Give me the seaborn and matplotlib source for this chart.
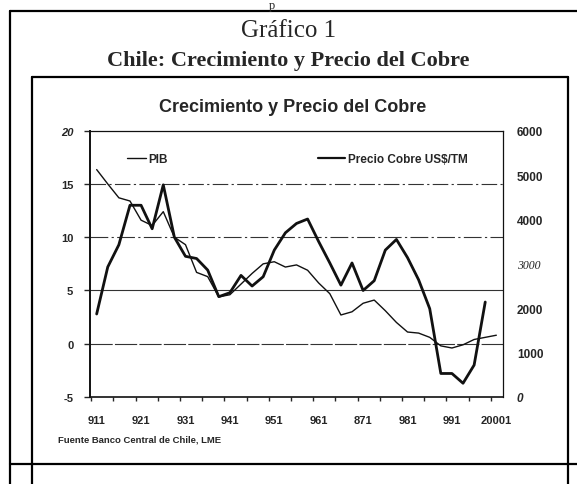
import matplotlib
matplotlib.use("Agg")
import matplotlib.pyplot as plt
from matplotlib.lines import Line2D
import numpy as np
import seaborn as sns

# datos
periodo = list(range(37))
etiquetas = ["911", "921", "931", "941", "951", "961", "871", "981", "991", "20001"]
pib = [16.35, 15.0, 13.7, 13.4, 11.6, 11.1, 12.4, 10.0, 9.3, 6.7,
       6.3, 4.4, 4.6, 5.6, 6.6, 7.5, 7.7, 7.2, 7.4, 6.9,
       5.7, 4.7, 2.7, 3.0, 3.8, 4.1, 3.1, 2.0, 1.1, 1.0,
       0.6, -0.2, -0.4, -0.1, 0.4, 0.6, 0.8]
cobre = [1870, 2930, 3430, 4320, 4320, 3790, 4780, 3600, 3170, 3120,
         2860, 2260, 2350, 2740, 2500, 2710, 3310, 3700, 3910, 4010,
         3500, 3020, 2520, 3020, 2400, 2620, 3310, 3550, 3140, 2640,
         1990, 530, 530, 310, 720, 2140]
ticks_izq = [-5, 0, 5, 10, 15, 20]
ticks_der = [0, 1000, 2000, 3000, 4000, 5000, 6000]

sns.set_style("white")
plt.rcParams['font.family'] = ['Liberation Sans', 'DejaVu Sans']

W, H = 577, 485
fig = plt.figure(figsize=(W / 100, H / 100), dpi=100)


def fx(x):
    return x / W


def fy(y):
    return 1 - y / H


def linea(x0, y0, x1, y1, lw=1.6):
    fig.add_artist(Line2D([fx(x0), fx(x1)], [fy(y0), fy(y1)], color="black",
                          lw=lw, transform=fig.transFigure))


# marcos del documento
linea(10, 12, 577, 12)
linea(10, 12, 10, 485)
linea(32, 78, 568, 78)
linea(32, 78, 32, 485)
linea(568, 78, 568, 485)
linea(10, 465, 577, 465)

fig.text(fx(272), fy(0.5), "p", family="Liberation Serif", fontsize=9,
         ha="center", va="top")
fig.text(fx(289), fy(31), "Gráfico 1", family="Liberation Serif", fontsize=18,
         ha="center", va="center")
fig.text(fx(288), fy(61), "Chile: Crecimiento y Precio del Cobre",
         family="Liberation Serif", fontsize=16, fontweight="bold",
         ha="center", va="center")
fig.text(fx(293), fy(107), "Crecimiento y Precio del Cobre", fontsize=13,
         fontweight="bold", ha="center", va="center")
fig.text(fx(58), fy(440), "Fuente Banco Central de Chile, LME", fontsize=6.8,
         fontweight="bold", ha="left", va="center")

ax = fig.add_axes([fx(90), fy(398), fx(503) - fx(90), fy(131.7) - fy(398)])
ax.set_xlim(-0.6, 36.6)
ax.set_ylim(-5, 20)

# lineas horizontales de referencia
for v, estilo in [(15, (0, (14, 3, 2, 3))), (10, (0, (16, 3, 2, 3))), (5, "-"), (0, (0, (20, 2)))]:
    ax.axhline(v, color="#333333", lw=0.8, ls=estilo, zorder=1)

sns.lineplot(x=periodo, y=pib, ax=ax, color="#111111", lw=1.0, zorder=3)

ax2 = ax.twinx()
ax2.set_ylim(0, 6000)
sns.lineplot(x=periodo[:len(cobre)], y=cobre, ax=ax2, color="#111111", lw=2.0, zorder=3)

# ejes
for s in ["top", "right", "left", "bottom"]:
    ax.spines[s].set_visible(True)
    ax.spines[s].set_color("#111111")
    ax2.spines[s].set_visible(False)
ax.spines["left"].set_linewidth(1.4)
ax.spines["bottom"].set_linewidth(1.2)
ax.spines["top"].set_linewidth(0.9)
ax.spines["right"].set_linewidth(0.9)

ax.set_xticks(periodo[::4])
ax.set_xticklabels(etiquetas, fontsize=8, fontweight="bold")
ax.set_xticks(np.arange(-0.5, 37, 2), minor=True)
ax.tick_params(axis="x", which="major", length=0, pad=13)
ax.tick_params(axis="x", which="minor", direction="out", length=3, width=1, bottom=True)

ax.set_yticks(ticks_izq)
ax.set_yticklabels([str(t) for t in ticks_izq], fontsize=8, fontweight="bold")
ax.tick_params(axis="y", direction="out", length=4, width=1, left=True, pad=8)
ax.get_yticklabels()[-1].set_fontstyle("italic")

ax2.set_yticks(ticks_der)
ax2.set_yticklabels([str(t) for t in ticks_der], fontsize=8.5, fontweight="bold")
ax2.tick_params(axis="y", length=0, pad=10)
ax2.get_yticklabels()[0].set_fontstyle("italic")
ax2.get_yticklabels()[3].set_family("Liberation Serif")
ax2.get_yticklabels()[3].set_fontstyle("italic")
ax2.get_yticklabels()[3].set_fontweight("normal")
ax.set_xlabel("")
ax.set_ylabel("")
ax2.set_ylabel("")

# leyendas
h_pib = Line2D([], [], color="#111111", lw=1.0)
h_cobre = Line2D([], [], color="#111111", lw=1.6)
fig.legend([h_pib], ["PIB"], loc="center left", bbox_to_anchor=(fx(127), fy(160)),
           frameon=False, borderpad=0, borderaxespad=0, handlelength=1.6,
           handletextpad=0.2, prop={"size": 8.5, "weight": "bold"})
fig.legend([h_cobre], ["Precio Cobre US$/TM"], loc="center left",
           bbox_to_anchor=(fx(318), fy(160)), frameon=False, borderpad=0,
           borderaxespad=0, handlelength=2.3, handletextpad=0.2,
           prop={"size": 8.5, "weight": "bold"})

fig.savefig("out.png", dpi=100)
